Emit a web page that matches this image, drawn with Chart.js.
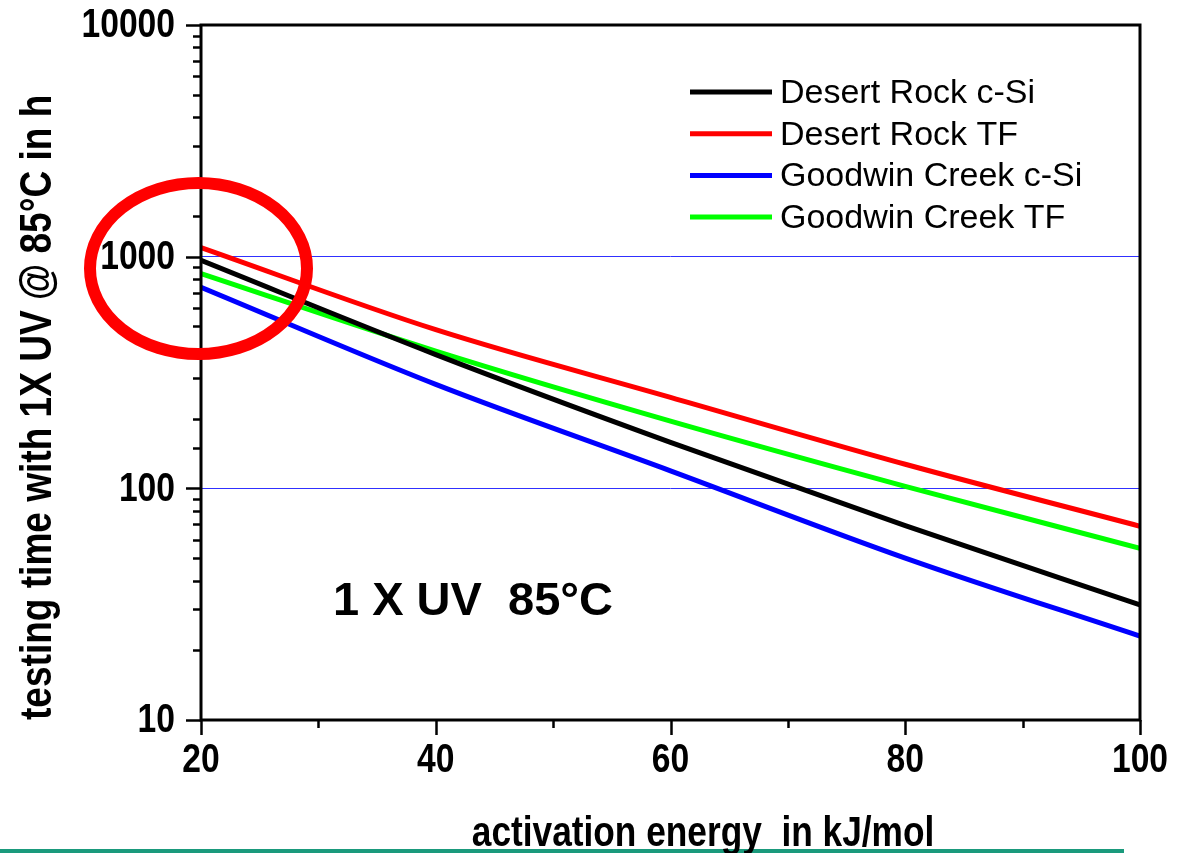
<!DOCTYPE html>
<html>
<head>
<meta charset="utf-8">
<script src="https://cdn.jsdelivr.net/npm/chart.js@4.4.1/dist/chart.umd.min.js"></script>
<style>
  html, body { margin: 0; padding: 0; background: #fff; overflow: hidden; }
  canvas { display: block; }
</style>
</head>
<body>
<canvas id="c" width="1194" height="853"></canvas>
<script>
// Activation energy (kJ/mol) and required testing time (h) at 1X UV, 85 °C
const activationEnergy = [20, 40, 60, 80, 100];
const desertRockCSi     = [964, 378, 158, 69, 31.4];
const desertRockTF      = [1094, 484, 247, 127, 68.6];
const goodwinCreekCSi   = [738, 281, 119, 50, 23];
const goodwinCreekTF    = [845, 391, 195, 102, 55.1];

const seriesNames  = ['Desert Rock c-Si', 'Desert Rock TF', 'Goodwin Creek c-Si', 'Goodwin Creek TF'];
const seriesColors = ['#000000', '#ff0000', '#0000ff', '#00ff00'];
const xTickLabels  = [20, 40, 60, 80, 100];
const yTickLabels  = [10, 100, 1000, 10000];
const gridValues   = [100, 1000];

const xTitle = 'activation energy  in kJ/mol';
const yTitle = 'testing time with 1X UV @ 85°C in h';
const note   = '1 X UV  85°C';

// Condensed face if installed, otherwise squeeze the regular face
const NARROW = '"Liberation Sans Narrow", "Arial Narrow"';
function fontInstalled(fam) {
  const g = document.createElement('canvas').getContext('2d');
  g.font = 'bold 40px ' + fam + ', monospace';
  const a = g.measureText('10000 activation').width;
  g.font = 'bold 40px monospace';
  const b = g.measureText('10000 activation').width;
  return Math.abs(a - b) > 0.5;
}
const hasNarrow = fontInstalled(NARROW);
const narrowFamily = hasNarrow ? NARROW : '"Liberation Sans", Arial, sans-serif';
const squeeze = hasNarrow ? 1 : 0.82;

function narrowText(ctx, text, x, y, size, align, baseline, rot) {
  ctx.save();
  ctx.translate(x, y);
  if (rot) ctx.rotate(rot);
  ctx.scale(squeeze, 1);
  ctx.font = 'bold ' + size + 'px ' + narrowFamily;
  ctx.textAlign = align;
  ctx.textBaseline = baseline;
  ctx.fillStyle = '#000';
  ctx.fillText(text, 0, 0);
  ctx.restore();
}

const datasets = [desertRockCSi, desertRockTF, goodwinCreekCSi, goodwinCreekTF].map((vals, i) => ({
  label: seriesNames[i],
  data: activationEnergy.map((x, k) => ({ x: x, y: vals[k] })),
  borderColor: seriesColors[i],
  backgroundColor: seriesColors[i],
  borderWidth: 5,
  pointRadius: 0,
  cubicInterpolationMode: 'monotone',
  fill: false
}));

const decorations = {
  id: 'decorations',
  afterDatasetsDraw(chart) {
    const ctx = chart.ctx;
    const a = chart.chartArea;
    const xs = chart.scales.x, ys = chart.scales.y;
    ctx.save();
    ctx.strokeStyle = '#000';
    // frame
    ctx.lineWidth = 3;
    ctx.strokeRect(a.left, a.top, a.right - a.left, a.bottom - a.top);
    // y tick marks (outward, left)
    ctx.lineWidth = 2.5;
    ys.ticks.forEach(t => {
      const py = Math.round(ys.getPixelForValue(t.value)) + 0.5;
      const major = yTickLabels.includes(t.value);
      const len = major ? 15 : 8;
      ctx.beginPath();
      ctx.moveTo(a.left - len, py);
      ctx.lineTo(a.left, py);
      ctx.stroke();
    });
    // x tick marks (outward, down)
    xs.ticks.forEach(t => {
      const px = Math.round(xs.getPixelForValue(t.value)) + 0.5;
      const major = xTickLabels.includes(t.value);
      const len = major ? 15 : 8;
      ctx.beginPath();
      ctx.moveTo(px, a.bottom);
      ctx.lineTo(px, a.bottom + len);
      ctx.stroke();
    });
    // tick labels
    ys.ticks.forEach(t => {
      if (!yTickLabels.includes(t.value)) return;
      narrowText(ctx, String(t.value), a.left - 26, ys.getPixelForValue(t.value) + 1, 41, 'right', 'middle');
    });
    xs.ticks.forEach(t => {
      if (!xTickLabels.includes(t.value)) return;
      narrowText(ctx, String(t.value), xs.getPixelForValue(t.value), a.bottom + 52, 41, 'center', 'alphabetic');
    });
    ctx.restore();
  },
  afterDraw(chart) {
    const ctx = chart.ctx;
    ctx.save();
    // legend
    chart.data.datasets.forEach((ds, i) => {
      const ly = 92 + 41.7 * i;
      ctx.strokeStyle = ds.borderColor;
      ctx.lineWidth = 5;
      ctx.beginPath();
      ctx.moveTo(690, ly);
      ctx.lineTo(772, ly);
      ctx.stroke();
      ctx.fillStyle = '#000';
      ctx.font = '34px "Liberation Sans", Arial, sans-serif';
      ctx.textAlign = 'left';
      ctx.textBaseline = 'alphabetic';
      ctx.fillText(ds.label, 780, ly + 11);
    });
    // annotation
    ctx.font = 'bold 47px "Liberation Sans", Arial, sans-serif';
    ctx.fillStyle = '#000';
    ctx.textAlign = 'left';
    ctx.fillText(note, 333, 615);
    // highlight ellipse
    ctx.strokeStyle = '#ff0000';
    ctx.lineWidth = 12;
    ctx.beginPath();
    ctx.ellipse(198.5, 268.5, 108.5, 85.5, 0, 0, Math.PI * 2);
    ctx.stroke();
    // footer rule
    ctx.fillStyle = '#1a9a7c';
    ctx.fillRect(0, 849, 1124, 4);
    // axis titles
    narrowText(ctx, xTitle, 703, 846, 43, 'center', 'alphabetic');
    narrowText(ctx, yTitle, 51, 720, 45.2, 'left', 'alphabetic', -Math.PI / 2);
    ctx.restore();
  }
};

new Chart(document.getElementById('c'), {
  type: 'line',
  data: { datasets: datasets },
  options: {
    responsive: false,
    animation: false,
    devicePixelRatio: 1,
    layout: { padding: { left: 0, top: 25, right: 54, bottom: 0 } },
    plugins: { legend: { display: false }, tooltip: { enabled: false } },
    scales: {
      x: {
        type: 'linear',
        min: 20, max: 100,
        ticks: { stepSize: 10, display: false },
        grid: { display: false, drawTicks: false },
        border: { display: false },
        afterFit(s) { s.height = 133; }
      },
      y: {
        type: 'logarithmic',
        min: 10, max: 10000,
        ticks: { display: false, autoSkip: false },
        grid: {
          drawTicks: false,
          lineWidth: 1,
          color: c => (c.tick && gridValues.includes(c.tick.value)) ? '#3030ff' : 'rgba(0,0,0,0)'
        },
        border: { display: false },
        afterFit(s) { s.width = 201; }
      }
    }
  },
  plugins: [decorations]
});
</script>
</body>
</html>
